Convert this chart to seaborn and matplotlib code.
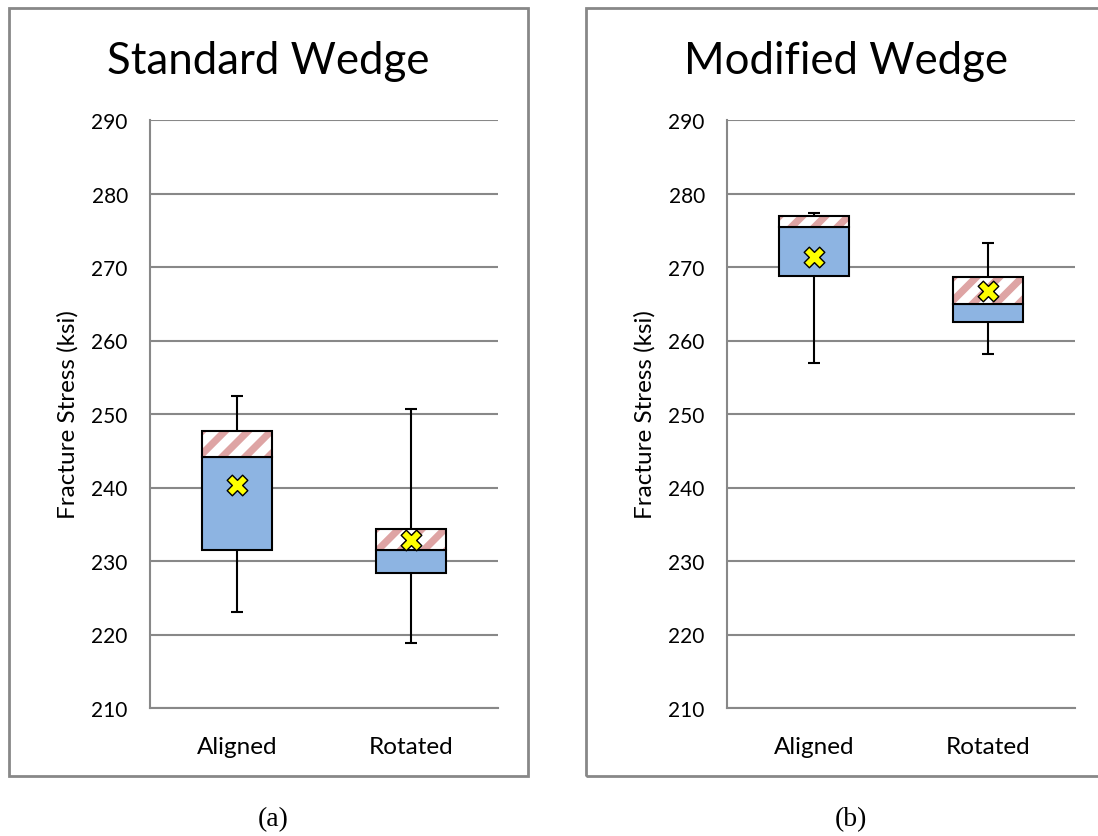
"""Fracture stress box plots: standard vs modified wedge, Excel-style stacked boxes."""
import matplotlib
matplotlib.use("Agg")
import matplotlib.pyplot as plt
from matplotlib.lines import Line2D
from matplotlib.patches import Rectangle
from matplotlib.ticker import MultipleLocator
from matplotlib.transforms import IdentityTransform
import numpy as np
import seaborn as sns

# --- data (ksi) ---
groups = ["Aligned", "Rotated"]
panel_titles = ["Standard Wedge", "Modified Wedge"]
panel_tags = ["(a)", "(b)"]

std_min = [223.1, 218.8]
std_q1 = [231.5, 228.3]
std_median = [244.1, 231.5]
std_q3 = [247.7, 234.4]
std_max = [252.5, 250.7]
std_mean = [240.3, 232.9]

mod_min = [257.0, 258.1]
mod_q1 = [268.8, 262.5]
mod_median = [275.5, 264.9]
mod_q3 = [276.9, 268.6]
mod_max = [277.4, 273.3]
mod_mean = [271.3, 266.8]

y_ticks = [210, 220, 230, 240, 250, 260, 270, 280, 290]

BLUE = "#8db4e2"
STRIPE = "#dea4a4"
GRID = "#888888"
W, H = 1098, 837


def px_rect(x0, y0, x1, y1):
    """Pixel box (top-left origin) -> figure fraction [l, b, w, h]."""
    return [x0 / W, 1 - y1 / H, (x1 - x0) / W, (y1 - y0) / H]


def add_stripes(ax, bars, period=23, width_pt=5.2):
    """Excel-like wide diagonal stripes, clipped to each bar."""
    for bar in bars:
        (x0, y0), (x1, y1) = ax.transData.transform(
            [(bar.get_x(), bar.get_y()),
             (bar.get_x() + bar.get_width(), bar.get_y() + bar.get_height())])
        h = y1 - y0
        for o in np.arange(x0 - h - period, x1 + period, period):
            ln = Line2D([o - 10, o + h + 10], [y0 - 10, y1 + 10], transform=IdentityTransform(),
                        color=STRIPE, lw=width_pt, zorder=3.5, solid_capstyle="butt")
            ax.add_artist(ln)
            ln.set_clip_path(bar)


def draw_panel(fig, rect, lo, q1, med, q3, hi, mean):
    ax = fig.add_axes(rect)
    x = np.arange(len(groups))
    lo, q1, med, q3, hi = map(np.asarray, (lo, q1, med, q3, hi))
    bw = 0.4

    ax.set_xlim(-0.5, 1.5)
    ax.set_ylim(y_ticks[0], y_ticks[-1])

    # whiskers behind the boxes
    ax.vlines(x, lo, hi, color="black", lw=1.5, zorder=2)
    ax.hlines(lo, x - 0.035, x + 0.035, color="black", lw=1.5, zorder=2)
    ax.hlines(hi, x - 0.035, x + 0.035, color="black", lw=1.5, zorder=2)

    # lower half: Q1 -> median, solid blue
    ax.bar(x, med - q1, bottom=q1, width=bw, color=BLUE, edgecolor="black", lw=1.5, zorder=3)
    # upper half: median -> Q3, white with pink stripes
    upper = ax.bar(x, q3 - med, bottom=med, width=bw, color="white", lw=0, zorder=3)
    add_stripes(ax, upper)
    ax.bar(x, q3 - med, bottom=med, width=bw, fill=False, edgecolor="black", lw=1.5, zorder=4)

    sns.scatterplot(x=x, y=mean, marker="X", s=220, color="#ffff00",
                    edgecolor="black", linewidth=1, zorder=5, ax=ax, legend=False)

    ax.set_xlim(-0.5, 1.5)
    ax.set_ylim(y_ticks[0], y_ticks[-1])
    ax.set_yticks(y_ticks)
    ax.yaxis.set_minor_locator(MultipleLocator(5))
    ax.set_axisbelow(True)
    ax.grid(axis="y", which="major", color=GRID, lw=1.5)
    ax.grid(axis="x", visible=False)

    ax.set_xticks([-0.5, 0.5, 1.5])
    ax.set_xticklabels([])
    ax.set_xticks(x, minor=True)
    ax.set_xticklabels(groups, minor=True)
    ax.tick_params(axis="x", which="major", direction="out", length=7, width=1.5, color=GRID)
    ax.tick_params(axis="x", which="minor", length=0, pad=20, labelsize=17.5,
                   labelcolor="black")
    ax.tick_params(axis="y", which="major", direction="out", length=7, width=1.5,
                   color=GRID, labelsize=15, pad=9, labelcolor="black")
    ax.tick_params(axis="y", which="minor", direction="inout", length=10, width=1.2, color=GRID)

    for side in ("top", "right"):
        ax.spines[side].set_visible(False)
    for side in ("left", "bottom"):
        ax.spines[side].set_color(GRID)
        ax.spines[side].set_linewidth(1.5)

    ax.set_ylabel("Fracture Stress (ksi)", fontsize=17.5, labelpad=9, color="black")
    ax.set_xlabel("")
    return ax


sns.set_theme(style="white")
plt.rcParams["font.family"] = ["Lato", "DejaVu Sans"]
plt.rcParams["text.color"] = "black"

fig = plt.figure(figsize=(W / 100, H / 100), dpi=100)

stats = [
    (std_min, std_q1, std_median, std_q3, std_max, std_mean),
    (mod_min, mod_q1, mod_median, mod_q3, mod_max, mod_mean),
]
frames = [(9, 9, 528, 777), (586, 9, 1105, 777)]
axes_px = [(150, 121, 498, 709), (727, 121, 1075, 709)]

for i, (title, tag) in enumerate(zip(panel_titles, panel_tags)):
    fx0, fy0, fx1, fy1 = frames[i]
    fig.add_artist(Rectangle((fx0 / W, 1 - fy1 / H), (fx1 - fx0) / W, (fy1 - fy0) / H,
                             transform=fig.transFigure, fill=False,
                             edgecolor=GRID, lw=2))
    draw_panel(fig, px_rect(*axes_px[i]), *stats[i])
    cx = (fx0 + fx1) / 2 / W
    fig.text(cx, 1 - 62 / H, title, ha="center", va="center", fontsize=31.5, color="black")
    fig.text((fx0 + fx1) / 2 / W + 5 / W, 1 - 820 / H, tag, ha="center", va="center",
             fontsize=20, family="Liberation Serif", color="black")

fig.savefig("out.png", dpi=100)
